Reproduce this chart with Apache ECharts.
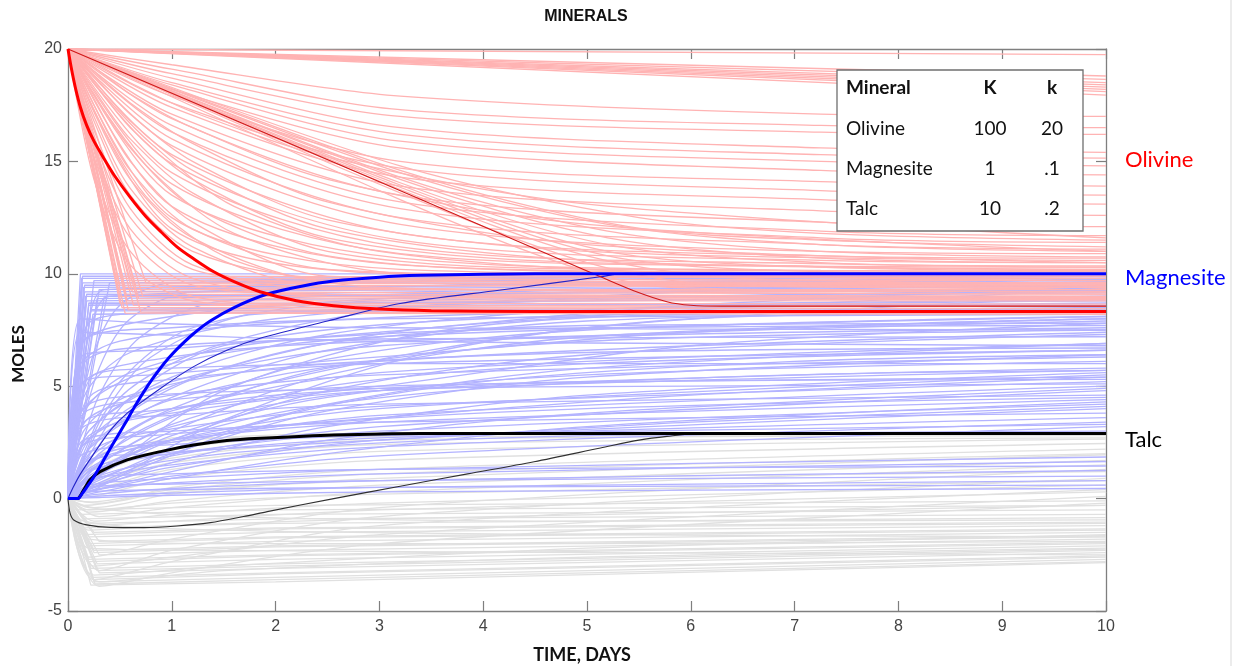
<!DOCTYPE html>
<html>
<head>
<meta charset="utf-8">
<script src="https://cdn.jsdelivr.net/npm/echarts@6.0.0/dist/echarts.min.js"></script>
<style>
  html, body { margin: 0; padding: 0; background: #ffffff; }
  #chart { width: 1234px; height: 666px; }
</style>
</head>
<body>
<div id="chart"></div>
<script>
// ---- Ensemble runs: each run is a list of [time (days), moles] points ----
const olivineRuns = [
  // slow, nearly straight declines
  [[0,20],[10,19.75]], [[0,20],[10,18.8]], [[0,20],[10,18.65]], [[0,20],[10,18.5]],
  [[0,20],[10,18.4]], [[0,20],[10,18.3]], [[0,20],[10,18.2]], [[0,20],[10,18.1]], [[0,20],[10,17.95]],
  // gradual decays
  [[0,20],[1,19.3],[3.2,17.9],[7.25,17.1],[10,17.0]],
  [[0,20],[1,19.1],[3.2,17.3],[7.25,16.6],[10,16.5]],
  [[0,20],[1,18.9],[3.2,17.0],[7.25,16.3],[10,16.2]],
  [[0,20],[1,18.7],[3.2,16.5],[7.25,15.6],[10,15.4]],
  [[0,20],[1,18.5],[3.2,16.2],[7.25,15.3],[10,15.15]],
  [[0,20],[1,18.4],[3.2,15.9],[7.25,15.0],[10,14.8]],
  [[0,20],[1,18.2],[3.2,15.6],[7.25,14.6],[10,14.4]],
  [[0,20],[1,17.9],[3.2,15.0],[7.25,14.1],[10,13.9]],
  [[0,20],[1,17.6],[3.2,14.7],[7.25,13.7],[10,13.5]],
  [[0,20],[1,17.4],[3.2,14.3],[7.25,13.3],[10,13.1]],
  [[0,20],[1,17.1],[3.2,13.9],[7.25,12.8],[10,12.6]],
  [[0,20],[1,16.9],[3.2,13.5],[7.25,12.3],[10,12.1]],
  [[0,20],[1,16.6],[3.2,13.2],[7.25,11.9],[10,11.7]],
  [[0,20],[1,16.3],[3.2,12.9],[7.25,11.6],[10,11.4]],
  [[0,20],[1,16.0],[3.2,12.5],[7.25,11.3],[10,11.1]],
  [[0,20],[1,15.7],[3.2,12.2],[7.25,11.0],[10,10.9]],
  [[0,20],[1,15.3],[3.2,11.8],[7.25,10.8],[10,10.7]],
  [[0,20],[1,14.9],[3.2,11.5],[7.25,10.6],[10,10.5]],
  [[0,20],[1,14.5],[3.2,11.2],[7.25,10.45],[10,10.35]],
  [[0,20],[1,14.0],[3.2,10.9],[7.25,10.3],[10,10.2]],
  [[0,20],[1,13.5],[3.2,10.7],[7.25,10.15],[10,10.1]],
  [[0,20],[1,13.0],[3.2,10.4],[7.25,10.05],[10,10.0]],
  [[0,20],[1,12.5],[3.2,10.2],[7.25,9.95],[10,9.9]],
  [[0,20],[1,12.0],[3.2,10.0],[7.25,9.85],[10,9.8]],
  // near-linear declines that bend onto the plateau late
  [[0,20],[3.2,14.8],[5.5,12.5],[7.25,11.8],[10,11.5]],
  [[0,20],[3.2,14.6],[5.4,12.1],[7.25,11.5],[10,11.2]],
  [[0,20],[3.2,14.5],[5.2,12.2],[7.25,11.3],[10,11.0]],
  [[0,20],[3.2,14.3],[5.2,11.9],[7.25,11.0],[10,10.75]],
  [[0,20],[3.2,14.2],[5.2,11.6],[7.25,10.7],[10,10.5]],
  [[0,20],[3.2,14.05],[5.2,11.3],[7.25,10.5],[10,10.3]],
  [[0,20],[3.2,13.95],[5.2,11.0],[7.25,10.3],[10,10.15]],
  [[0,20],[3.2,13.85],[5.2,10.8],[7.25,10.1],[10,10.0]],
  [[0,20],[3.2,13.75],[5.0,10.8],[6.5,9.8],[10,9.6]],
  [[0,20],[3.2,13.6],[5.0,10.5],[6.3,9.5],[10,9.35]],
  [[0,20],[3.2,13.3],[4.8,10.4],[5.8,9.4],[10,9.2]],
  // medium-speed decays
  [[0,20],[0.25,16.0],[0.6,12.5],[1.2,10.2],[2.5,9.6],[10,9.5]],
  [[0,20],[0.25,16.8],[0.6,13.5],[1.2,11.0],[2.5,9.8],[10,9.7]],
  [[0,20],[0.25,17.5],[0.6,14.6],[1.2,12.0],[2.5,10.2],[5,9.95],[10,9.9]],
  [[0,20],[0.25,18.0],[0.6,15.6],[1.2,13.0],[2.5,10.8],[5,10.1],[10,10.0]],
  [[0,20],[0.25,18.5],[0.6,16.5],[1.2,14.2],[2.5,11.6],[5,10.5],[10,10.3]],
  [[0,20],[0.25,18.8],[0.6,17.1],[1.2,15.0],[2.5,12.4],[5,11.0],[10,10.6]],
  [[0,20],[0.25,15.2],[0.6,11.6],[1.2,9.5],[2.5,9.1],[10,9.0]],
  [[0,20],[0.25,17.0],[0.6,13.8],[1.2,11.2],[2.5,9.4],[10,9.2]],
  [[0,20],[0.25,14.6],[0.6,11.0],[1.2,9.0],[2.5,8.6],[10,8.55]],
  [[0,20],[0.25,18.2],[0.6,16.0],[1.2,13.6],[2.5,11.0],[5,10.2],[10,10.1]],
  [[0,20],[0.25,16.4],[0.6,12.9],[1.2,10.4],[2.5,9.3],[10,9.3]],
  [[0,20],[0.25,17.8],[0.6,15.0],[1.2,12.3],[2.5,9.9],[10,9.4]],
  [[0,20],[0.25,19.0],[0.6,17.6],[1.2,15.8],[2.5,13.2],[5,11.3],[10,10.5]],
  [[0,20],[0.25,19.2],[0.6,18.0],[1.2,16.5],[2.5,14.2],[5,12.2],[10,11.0]],
  [[0,20],[0.25,19.4],[0.6,18.5],[1.2,17.2],[2.5,15.2],[5,13.1],[10,11.6]],
  [[0,20],[0.25,17.2],[0.6,14.2],[1.2,11.6],[2.5,9.7],[10,9.6]],
  [[0,20],[0.25,15.6],[0.6,12.0],[1.2,9.8],[2.5,9.0],[10,8.9]],
  [[0,20],[0.25,14.2],[0.6,10.4],[1.2,8.8],[2.5,8.5],[10,8.45]],
  [[0,20],[0.25,18.6],[0.6,16.8],[1.2,14.6],[2.5,12.0],[5,10.6],[10,10.2]],
  [[0,20],[0.3,18.2],[0.8,15.8],[1.6,13.0],[3,11.0],[6,10.0],[10,9.7]],
  [[0,20],[0.3,17.6],[0.8,14.6],[1.6,11.8],[3,10.1],[6,9.6],[10,9.5]],
  [[0,20],[0.3,16.8],[0.8,13.2],[1.6,10.6],[3,9.4],[10,9.1]],
  // fast drops onto the plateau
  [[0,20],[0.45,9.9],[10,9.8]], [[0,20],[0.47,9.6],[10,9.5]], [[0,20],[0.48,9.3],[10,9.3]],
  [[0,20],[0.5,9.0],[10,8.9]], [[0,20],[0.5,8.7],[10,8.65]], [[0,20],[0.52,8.5],[10,8.45]],
  [[0,20],[0.53,9.8],[10,9.7]], [[0,20],[0.55,9.4],[10,9.2]], [[0,20],[0.56,9.1],[10,9.0]],
  [[0,20],[0.57,8.8],[10,8.8]], [[0,20],[0.58,8.4],[10,8.35]], [[0,20],[0.6,9.7],[10,9.6]],
  [[0,20],[0.62,9.2],[10,9.1]], [[0,20],[0.63,8.6],[10,8.55]], [[0,20],[0.65,9.5],[10,9.4]],
  [[0,20],[0.68,8.9],[10,8.85]], [[0,20],[0.7,8.3],[10,8.25]], [[0,20],[0.72,9.0],[10,8.95]],
  [[0,20],[0.75,9.6],[10,9.55]], [[0,20],[0.5,9.5],[10,9.45]], [[0,20],[0.55,8.25],[10,8.2]]
];

const magnesiteRuns = [
  // quick rise to the upper plateau
  [[0,0],[0.12,10],[10,10]], [[0,0],[0.13,9.8],[10,9.9]], [[0,0],[0.14,9.6],[10,9.7]],
  [[0,0],[0.15,9.4],[10,9.6]], [[0,0],[0.16,9.2],[10,9.45]], [[0,0],[0.17,9.0],[10,9.3]],
  [[0,0],[0.18,8.8],[10,9.15]], [[0,0],[0.2,8.6],[10,9.0]], [[0,0],[0.22,8.4],[10,8.85]],
  [[0,0],[0.24,8.2],[10,8.7]], [[0,0],[0.14,9.9],[10,9.8]], [[0,0],[0.16,9.5],[10,9.25]],
  [[0,0],[0.18,9.1],[10,8.9]], [[0,0],[0.2,8.7],[10,8.6]], [[0,0],[0.22,8.35],[10,8.4]],
  [[0,0],[0.25,9.7],[10,9.95]], [[0,0],[0.3,9.3],[10,9.75]], [[0,0],[0.28,8.9],[10,9.5]],
  [[0,0],[0.35,9.0],[10,9.65]], [[0,0],[0.4,9.6],[10,9.9]],
  // fast curved risers
  [[0,0],[0.1,3.5],[0.25,6.5],[0.5,8.6],[1,9.6],[10,9.9]],
  [[0,0],[0.1,2.5],[0.3,5.8],[0.6,8.0],[1.2,9.2],[10,9.7]],
  [[0,0],[0.1,1.8],[0.3,4.6],[0.7,7.2],[1.5,8.8],[10,9.5]],
  [[0,0],[0.1,1.2],[0.35,3.8],[0.8,6.3],[1.8,8.2],[10,9.3]],
  [[0,0],[0.1,4.5],[0.2,7.2],[0.4,9.0],[10,9.8]],
  [[0,0],[0.1,5.5],[0.2,8.0],[0.35,9.3],[10,9.9]],
  [[0,0],[0.15,2.0],[0.5,5.2],[1.2,7.6],[3,8.8],[10,9.0]],
  [[0,0],[0.15,1.5],[0.6,4.5],[1.5,6.8],[4,8.0],[10,8.5]],
  // rise to intermediate levels, then a slow climb
  [[0,0],[0.15,4.0],[1,6.0],[3,7.2],[10,8.1]],
  [[0,0],[0.2,3.0],[1,5.2],[3,6.8],[10,7.9]],
  [[0,0],[0.12,5.0],[1,6.3],[3,7.0],[10,7.6]],
  [[0,0],[0.25,2.5],[1,4.4],[3,6.1],[10,7.4]],
  [[0,0],[0.15,6.0],[1,6.8],[3,7.1],[10,7.2]],
  [[0,0],[0.3,2.0],[1,3.9],[3,5.6],[10,6.9]],
  [[0,0],[0.2,4.5],[1,5.3],[3,6.0],[10,6.6]],
  [[0,0],[0.18,3.5],[1,4.6],[3,5.5],[10,6.3]],
  [[0,0],[0.25,5.5],[1,5.8],[3,6.0],[10,6.0]],
  [[0,0],[0.3,1.5],[1,3.2],[3,4.8],[10,5.8]],
  [[0,0],[0.15,7.0],[1,7.6],[3,8.0],[10,8.2]],
  [[0,0],[0.2,7.8],[1,8.3],[3,8.7],[10,9.0]],
  [[0,0],[0.5,4.5],[1.5,6.9],[3.5,8.6],[10,9.8]],
  [[0,0],[0.5,3.5],[1.5,5.8],[3.5,7.6],[10,9.3]],
  [[0,0],[0.6,2.8],[2,5.2],[5,7.6],[10,9.0]],
  [[0,0],[0.15,4.5],[0.6,6.5],[2,8.0],[5,8.9],[10,9.2]],
  [[0,0],[0.15,3.8],[0.6,5.6],[2,7.0],[5,7.6],[10,7.7]],
  [[0,0],[0.15,3.0],[0.6,4.6],[2,5.8],[5,6.5],[10,6.7]],
  [[0,0],[0.15,2.4],[0.6,3.6],[2,4.6],[5,5.2],[10,5.3]],
  [[0,0],[0.1,5.8],[0.5,7.0],[2,7.8],[5,8.3],[10,8.4]],
  [[0,0],[0.12,6.8],[0.5,7.7],[2,8.6],[5,9.2],[10,9.3]],
  // steady climbers crossing the middle
  [[0,0],[0.2,1.0],[1,3.0],[2.5,5.5],[5,7.2],[10,8.0]],
  [[0,0],[0.2,0.8],[1,2.6],[2.5,4.8],[5,6.4],[10,7.3]],
  [[0,0],[0.2,1.5],[1,3.6],[2.5,5.8],[5,7.0],[10,7.5]],
  [[0,0],[0.2,0.5],[1,2.0],[2.5,3.9],[5,5.4],[10,6.4]],
  [[0,0],[0.2,2.2],[1,4.5],[2.5,6.6],[5,7.9],[10,8.3]],
  [[0,0],[0.2,0.4],[1,1.6],[2.5,3.2],[5,4.6],[10,5.6]],
  [[0,0],[0.2,3.0],[1,5.4],[2.5,7.3],[5,8.4],[10,8.8]],
  [[0,0],[0.2,0.3],[1,1.2],[2.5,2.6],[5,3.8],[10,4.9]],
  [[0,0],[0.2,1.2],[1,3.3],[2.5,5.0],[5,6.0],[10,6.6]],
  [[0,0],[0.2,0.6],[1,2.2],[2.5,4.2],[5,5.8],[10,6.9]],
  [[0,0],[0.2,1.8],[1,4.0],[2.5,6.2],[5,7.5],[10,8.1]],
  [[0,0],[0.2,0.2],[1,0.9],[2.5,2.0],[5,3.2],[10,4.3]],
  [[0,0],[0.2,2.6],[1,5.0],[2.5,6.9],[5,7.7],[10,7.8]],
  [[0,0],[0.2,0.9],[1,2.8],[2.5,4.5],[5,5.5],[10,6.1]],
  [[0,0],[0.3,0.5],[1.5,3.5],[3.5,6.5],[6,8.0],[10,8.3]],
  [[0,0],[0.3,1.0],[1.5,4.8],[3.5,7.4],[6,8.2],[10,8.3]],
  [[0,0],[0.4,0.8],[2,3.6],[4,5.2],[7,6.1],[10,6.4]],
  [[0,0],[0.15,3.4],[0.8,3.9],[3,5.0],[6,6.8],[10,7.8]],
  [[0,0],[0.15,5.2],[0.8,5.5],[3,6.3],[6,7.4],[10,8.0]],
  [[0,0],[0.15,6.4],[0.8,6.6],[3,7.4],[6,8.6],[10,9.4]],
  [[0,0],[0.15,2.4],[0.8,2.8],[3,3.6],[6,4.6],[10,5.4]],
  [[0,0],[0.15,1.6],[0.8,2.0],[3,2.6],[6,3.4],[10,4.1]],
  [[0,0],[0.15,4.0],[0.8,4.6],[3,4.9],[6,5.0],[10,5.1]],
  [[0,0],[0.5,1.8],[2,3.8],[4,4.9],[7,5.5],[10,5.7]],
  [[0,0],[0.12,7.4],[0.8,7.3],[3,7.0],[6,6.9],[10,6.8]],
  [[0,0],[0.12,8.0],[0.8,7.8],[3,7.6],[10,7.5]],
  // lower climbs
  [[0,0],[0.2,2.8],[1,3.8],[3,4.8],[10,5.7]],
  [[0,0],[0.3,1.2],[1,2.6],[3,4.0],[10,5.5]],
  [[0,0],[0.15,3.8],[1,4.4],[3,5.0],[10,5.4]],
  [[0,0],[0.25,2.2],[1,3.1],[3,4.1],[10,5.2]],
  [[0,0],[0.2,1.6],[1,2.5],[3,3.7],[10,5.0]],
  [[0,0],[0.3,0.9],[1,1.9],[3,3.2],[10,4.8]],
  [[0,0],[0.15,3.2],[1,3.7],[3,4.2],[10,4.6]],
  [[0,0],[0.25,1.8],[1,2.6],[3,3.4],[10,4.4]],
  [[0,0],[0.2,1.2],[1,2.0],[3,3.0],[10,4.2]],
  [[0,0],[0.3,0.6],[1,1.4],[3,2.6],[10,4.0]],
  [[0,0],[0.15,2.6],[1,3.0],[3,3.4],[10,3.8]],
  [[0,0],[0.25,1.4],[1,2.0],[3,2.7],[10,3.6]],
  [[0,0],[0.2,0.8],[1,1.5],[3,2.3],[10,3.4]],
  [[0,0],[0.3,0.4],[1,1.0],[3,1.9],[10,3.2]],
  [[0,0],[0.15,2.0],[1,2.4],[3,2.8],[10,3.3]],
  [[0,0],[0.1,1.0],[0.6,2.2],[2,3.2],[5,4.0],[10,4.5]],
  [[0,0],[0.1,0.6],[0.6,1.4],[2,2.2],[5,2.8],[10,3.0]],
  // runs that stay low
  [[0,0],[0.2,0.6],[1,0.9],[3,1.3],[10,1.85]],
  [[0,0],[0.25,0.4],[1,0.7],[3,1.1],[10,1.65]],
  [[0,0],[0.2,0.9],[1,1.1],[3,1.3],[10,1.45]],
  [[0,0],[0.3,0.2],[1,0.45],[3,0.8],[10,1.25]],
  [[0,0],[0.2,0.5],[1,0.65],[3,0.8],[10,1.0]],
  [[0,0],[0.25,0.1],[1,0.25],[3,0.5],[10,0.8]],
  [[0,0],[0.2,0.3],[1,0.4],[3,0.5],[10,0.6]],
  [[0,0],[0.3,0.05],[1,0.15],[3,0.3],[10,0.45]]
];

const talcRuns = [
  // early dip, then a slow recovery
  [[0,0],[0.22,-3.85],[2,-3.7],[10,-2.85]], [[0,0],[0.26,-3.8],[2,-3.6],[10,-2.8]],
  [[0,0],[0.25,-3.7],[2,-3.5],[10,-2.7]], [[0,0],[0.24,-3.6],[2,-3.35],[10,-2.6]],
  [[0,0],[0.24,-3.5],[2,-3.3],[10,-2.55]], [[0,0],[0.3,-3.3],[2,-3.1],[10,-2.4]],
  [[0,0],[0.28,-3.2],[2,-3.0],[10,-2.3]], [[0,0],[0.22,-3.1],[2,-2.9],[10,-2.25]],
  [[0,0],[0.28,-2.9],[2,-2.7],[10,-2.1]], [[0,0],[0.2,-2.8],[2,-2.55],[10,-2.0]],
  [[0,0],[0.2,-2.7],[2,-2.5],[10,-1.95]], [[0,0],[0.3,-2.5],[2,-2.3],[10,-1.8]],
  [[0,0],[0.25,-2.4],[2,-2.15],[10,-1.7]], [[0,0],[0.25,-2.3],[2,-2.1],[10,-1.65]],
  [[0,0],[0.18,-2.1],[2,-1.9],[10,-1.5]], [[0,0],[0.2,-2.0],[2,-1.75],[10,-1.4]],
  [[0,0],[0.3,-1.9],[2,-1.7],[10,-1.35]], [[0,0],[0.2,-1.7],[2,-1.5],[10,-1.2]],
  [[0,0],[0.15,-1.6],[2,-1.35],[10,-1.1]], [[0,0],[0.25,-1.5],[2,-1.3],[10,-1.05]],
  [[0,0],[0.15,-1.3],[2,-1.1],[10,-0.85]], [[0,0],[0.2,-1.1],[2,-0.9],[10,-0.7]],
  [[0,0],[0.15,-0.9],[2,-0.7],[10,-0.5]], [[0,0],[0.12,-0.7],[2,-0.5],[10,-0.3]],
  [[0,0],[0.1,-0.5],[2,-0.3],[10,-0.1]],
  [[0,0],[0.25,-3.4],[1.5,-3.0],[5,-2.2],[10,-1.6]],
  [[0,0],[0.3,-3.7],[1.5,-3.2],[5,-2.6],[10,-2.2]],
  [[0,0],[0.2,-2.2],[1.5,-2.3],[5,-2.4],[10,-2.5]],
  [[0,0],[0.2,-1.8],[1.5,-2.0],[5,-2.0],[10,-1.9]],
  [[0,0],[0.15,-1.0],[1.5,-1.4],[5,-1.6],[10,-1.7]],
  [[0,0],[0.2,-0.4],[1.5,-0.8],[5,-1.0],[10,-0.95]],
  // deeper dips that recover further
  [[0,0],[0.25,-3.6],[1,-2.8],[3,-1.2],[10,0.4]],
  [[0,0],[0.3,-3.2],[1,-2.3],[3,-0.8],[10,0.9]],
  [[0,0],[0.2,-2.6],[1,-1.8],[3,-0.4],[10,1.3]],
  [[0,0],[0.3,-3.9],[1,-3.3],[3,-2.0],[10,-0.2]],
  [[0,0],[0.25,-3.0],[1,-2.6],[3,-1.6],[10,0.1]],
  // runs that climb toward the upper limit
  [[0,0],[0.15,0.8],[1,2.2],[3,2.85],[10,2.9]],
  [[0,0],[0.2,0.5],[1,1.8],[3,2.6],[10,2.8]],
  [[0,0],[0.2,0.3],[1,1.3],[3,2.1],[10,2.65]],
  [[0,0],[0.25,0.1],[1,0.9],[3,1.7],[10,2.45]],
  [[0,0],[0.3,-0.2],[1,0.5],[3,1.3],[10,2.2]],
  [[0,0],[0.25,-0.4],[1,0.2],[3,0.9],[10,1.95]],
  [[0,0],[0.2,-0.6],[1,-0.1],[3,0.6],[10,1.7]],
  [[0,0],[0.3,-0.8],[1,-0.4],[3,0.3],[10,1.5]],
  [[0,0],[0.15,-0.3],[1,0.3],[3,0.8],[10,1.2]],
  [[0,0],[0.2,-0.5],[1,-0.2],[3,0.2],[10,0.8]],
  [[0,0],[0.25,-1.0],[1,-0.7],[3,-0.2],[10,0.6]],
  [[0,0],[0.3,2.0],[1,2.7],[10,2.9]],
  [[0,0],[0.2,1.2],[1,2.5],[3,2.9],[10,2.9]],
  [[0,0],[0.25,0.6],[1,1.6],[3,2.4],[10,2.7]],
  [[0,0],[0.2,-0.15],[1,0.4],[3,1.1],[10,2.0]],
  [[0,0],[0.15,-1.2],[1,-1.0],[3,-0.5],[10,0.3]],
  [[0,0],[0.2,-1.4],[1,-1.2],[3,-0.9],[10,-0.3]]
];

// ---- Highlighted runs ----
const olivineFit = [[0,20],[0.03,19.2],[0.07,18.3],[0.12,17.4],[0.18,16.6],[0.25,15.9],[0.35,15.1],
  [0.45,14.35],[0.6,13.4],[0.75,12.55],[0.9,11.85],[1.05,11.2],[1.2,10.7],[1.4,10.1],[1.6,9.65],
  [1.85,9.2],[2.2,8.8],[2.56,8.58],[3.0,8.43],[3.5,8.36],[4.5,8.32],[10,8.32]];
const magnesiteFit = [[0,0],[0.1,0],[0.12,0.12],[0.18,0.5],[0.25,0.97],[0.33,1.6],[0.41,2.25],
  [0.5,2.95],[0.57,3.5],[0.65,4.15],[0.73,4.75],[0.81,5.3],[0.89,5.8],[0.97,6.25],[1.05,6.65],
  [1.2,7.3],[1.37,7.9],[1.6,8.5],[1.92,9.1],[2.25,9.45],[2.56,9.68],[3.0,9.85],[3.4,9.93],
  [4.0,9.98],[4.5,10],[10,10]];
const talcFit = [[0,0],[0.09,0],[0.15,0.38],[0.21,0.83],[0.31,1.2],[0.57,1.72],[0.89,2.09],
  [1.21,2.38],[1.53,2.58],[1.85,2.68],[2.56,2.83],[3.4,2.9],[10,2.9]];

const olivineSlow = [[0,20],[3.4,13.3],[5.13,9.87],[5.45,9.25],[5.77,8.76],[6.0,8.6],[6.3,8.56],[10,8.56]];
const magnesiteSlow = [[0,0],[0.05,0.5],[0.12,1.1],[0.25,2.0],[0.41,3.05],[0.57,3.8],[0.89,4.9],
  [1.21,5.87],[1.53,6.6],[1.85,7.13],[2.5,7.9],[3.2,8.68],[4.17,9.28],[5.13,9.87],[5.35,10],[10,10]];
const talcSlow = [[0,0],[0.02,-0.65],[0.055,-0.95],[0.18,-1.17],[0.41,-1.28],[0.73,-1.29],[1.05,-1.22],
  [1.37,-1.07],[1.69,-0.8],[1.92,-0.58],[2.56,0.0],[3.2,0.55],[3.85,1.1],[4.49,1.64],[5.13,2.25],
  [5.5,2.6],[5.77,2.77],[6.1,2.9],[10,2.9]];

// ---- Rate-constant table ----
const tableHeader = ['Mineral', 'K', 'k'];
const minerals = ['Olivine', 'Magnesite', 'Talc'];
const bigK = ['100', '1', '10'];
const smallK = ['20', '.1', '.2'];

// ---- End labels ----
const endLabels = [
  { text: 'Olivine', y: 160, color: '#ff0000' },
  { text: 'Magnesite', y: 278, color: '#0000ff' },
  { text: 'Talc', y: 440, color: '#000000' }
];

const chart = echarts.init(document.getElementById('chart'), null, { renderer: 'canvas' });

function runSeries(run, color) {
  return {
    type: 'line',
    data: run,
    showSymbol: false,
    symbol: 'none',
    silent: true,
    smooth: run.length > 4 ? 0.3 : false,
    lineStyle: { color: color, width: 1.3 },
    z: 2
  };
}

function mainSeries(data, color, width, z) {
  return {
    type: 'line', data: data, showSymbol: false, symbol: 'none', silent: true,
    smooth: 0.3, lineStyle: { color: color, width: width }, z: z
  };
}

// grey runs first, then olivine and magnesite runs interleaved so neither colour covers the other
const background = talcRuns.map(r => runSeries(r, '#e0e0e0'));
const nMix = Math.max(olivineRuns.length, magnesiteRuns.length);
for (let i = 0; i < nMix; i++) {
  if (i < magnesiteRuns.length) background.push(runSeries(magnesiteRuns[i], '#b3b3ff'));
  if (i < olivineRuns.length) background.push(runSeries(olivineRuns[i], '#ffb3b3'));
}

const axisGray = '#7f7f7f';
const tickFont = { color: '#444444', fontSize: 16, fontFamily: 'Liberation Sans, Arial, sans-serif' };
const labelFont = 'Lato, "Open Sans", sans-serif';

const graphics = [];
// title and axis names
graphics.push({ type: 'text', x: 586, y: 17, style: { text: 'MINERALS', font: 'bold 16px "Liberation Sans", Arial, sans-serif', fill: '#111', align: 'center', verticalAlign: 'middle' } });
graphics.push({ type: 'text', x: 582, y: 655, style: { text: 'TIME, DAYS', font: 'bold 18px ' + labelFont, fill: '#111', align: 'center', verticalAlign: 'middle' } });
graphics.push({ type: 'text', x: 19, y: 354, rotation: Math.PI / 2, style: { text: 'MOLES', font: 'bold 17px ' + labelFont, fill: '#111', align: 'center', verticalAlign: 'middle' } });
// end labels
endLabels.forEach(l => graphics.push({ type: 'text', x: 1125, y: l.y, style: { text: l.text, font: '22px ' + labelFont, fill: l.color, align: 'left', verticalAlign: 'middle' } }));
// table box
graphics.push({ type: 'rect', shape: { x: 837, y: 70, width: 246, height: 161 }, style: { fill: '#ffffff', stroke: '#6f6f6f', lineWidth: 1.3 }, z: 100 });
const colX = [846, 990, 1052];
const rowY = [88, 129, 169, 209];
tableHeader.forEach((h, i) => graphics.push({ type: 'text', x: colX[i], y: rowY[0], z: 101, style: { text: h, font: 'bold 19px ' + labelFont, fill: '#111', align: i === 0 ? 'left' : 'center', verticalAlign: 'middle' } }));
minerals.forEach((m, r) => {
  const cells = [m, bigK[r], smallK[r]];
  cells.forEach((c, i) => graphics.push({ type: 'text', x: colX[i], y: rowY[r + 1], z: 101, style: { text: c, font: '19px ' + labelFont, fill: '#111', align: i === 0 ? 'left' : 'center', verticalAlign: 'middle' } }));
});
// faint page edge
graphics.push({ type: 'line', shape: { x1: 1231, y1: 0, x2: 1231, y2: 666 }, style: { stroke: '#ececec', lineWidth: 2 } });

const option = {
  animation: false,
  backgroundColor: '#ffffff',
  grid: { left: 68, right: 128, top: 49, bottom: 55, containLabel: false },
  xAxis: [
    { type: 'value', min: 0, max: 10, interval: 1, position: 'bottom',
      axisLine: { show: true, onZero: false, lineStyle: { color: axisGray, width: 1.3 } },
      axisTick: { show: true, inside: true, length: 10, lineStyle: { color: axisGray, width: 1.2 } },
      axisLabel: Object.assign({ margin: 8 }, tickFont), splitLine: { show: false } },
    { type: 'value', min: 0, max: 10, interval: 1, position: 'top',
      axisLine: { show: true, onZero: false, lineStyle: { color: axisGray, width: 1.3 } },
      axisTick: { show: true, inside: true, length: 10, lineStyle: { color: axisGray, width: 1.2 } },
      axisLabel: { show: false }, splitLine: { show: false } }
  ],
  yAxis: [
    { type: 'value', min: -5, max: 20, interval: 5, position: 'left',
      axisLine: { show: true, onZero: false, lineStyle: { color: axisGray, width: 1.3 } },
      axisTick: { show: true, inside: true, length: 10, lineStyle: { color: axisGray, width: 1.2 } },
      axisLabel: Object.assign({ margin: 6 }, tickFont), splitLine: { show: false } },
    { type: 'value', min: -5, max: 20, interval: 5, position: 'right',
      axisLine: { show: true, onZero: false, lineStyle: { color: axisGray, width: 1.3 } },
      axisTick: { show: true, inside: true, length: 10, lineStyle: { color: axisGray, width: 1.2 } },
      axisLabel: { show: false }, splitLine: { show: false } }
  ],
  series: background.concat([
    mainSeries(talcSlow, '#303030', 1.1, 5),
    mainSeries(magnesiteSlow, '#2424c8', 1.1, 5),
    mainSeries(olivineSlow, '#d01818', 1.1, 5),
    mainSeries(talcFit, '#000000', 3, 6),
    mainSeries(magnesiteFit, '#0000ff', 3, 6),
    mainSeries(olivineFit, '#ff0000', 3, 6)
  ]),
  graphic: graphics
};

chart.setOption(option);
</script>
</body>
</html>
